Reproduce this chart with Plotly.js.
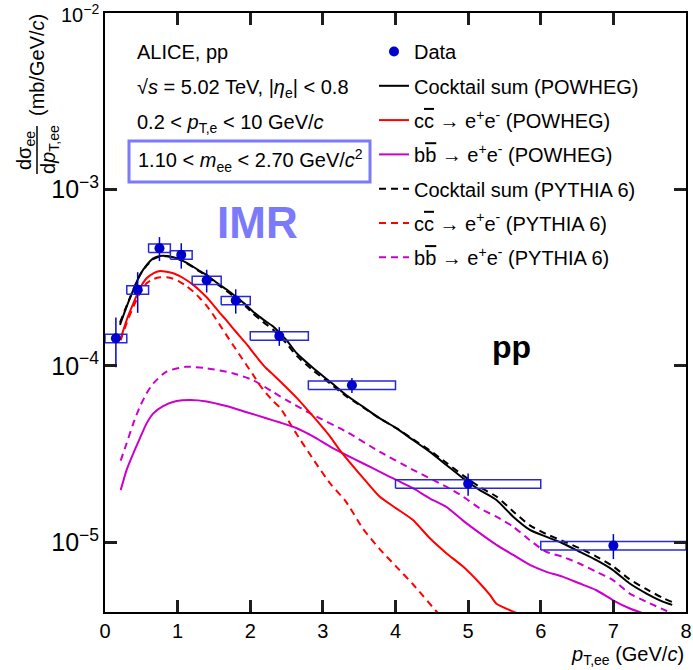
<!DOCTYPE html>
<html>
<head>
<meta charset="utf-8">
<script src="https://cdn.plot.ly/plotly-3.0.1.min.js"></script>
<style>
  html, body { margin: 0; padding: 0; background: #fff; }
  #chart { width: 693px; height: 670px; }
</style>
</head>
<body>
<div id="chart"></div>
<script>
// ---------------- data ----------------
const dataX    = [0.15, 0.45, 0.75, 1.05, 1.4, 1.8, 2.4, 3.4, 5.0, 7.0];
const dataY    = [1.435e-4, 2.70e-4, 4.65e-4, 4.26e-4, 3.06e-4, 2.35e-4, 1.48e-4, 7.78e-5, 2.15e-5, 9.6e-6];
const dataErr  = [0.45e-4, 0.70e-4, 0.72e-4, 0.70e-4, 0.45e-4, 0.37e-4, 0.18e-4, 0.76e-5, 0.31e-5, 1.55e-6];
const binLo    = [0.0, 0.3, 0.6, 0.9, 1.2, 1.6, 2.0, 2.8, 4.0, 6.0];
const binHi    = [0.3, 0.6, 0.9, 1.2, 1.6, 2.0, 2.8, 4.0, 6.0, 8.0];
const sysRel   = [0.055, 0.055, 0.055, 0.055, 0.055, 0.055, 0.055, 0.055, 0.055, 0.055];

const sumPowX = [0.206,0.298,0.39,0.48,0.573,0.665,0.757,0.848,0.94,1.03,1.12,1.215,1.307,1.40,1.49,1.58,1.67,1.76,1.857,1.95,2.04,2.13,2.22,2.32,2.41,2.50,2.64,2.87,3.10,3.32,3.55,3.78,4.01,4.24,4.47,4.70,4.93,5.16,5.39,5.62,5.85,6.07,6.30,6.53,6.76,6.99,7.22,7.45,7.68,7.81];
const sumPowY = [1.71e-4,2.17e-4,2.70e-4,3.28e-4,3.73e-4,4.07e-4,4.20e-4,4.20e-4,4.13e-4,4.02e-4,3.85e-4,3.65e-4,3.45e-4,3.28e-4,3.07e-4,2.88e-4,2.72e-4,2.55e-4,2.37e-4,2.20e-4,2.03e-4,1.90e-4,1.78e-4,1.67e-4,1.53e-4,1.40e-4,1.18e-4,9.7e-5,8.14e-5,6.85e-5,5.88e-5,5.06e-5,4.44e-5,3.81e-5,3.27e-5,2.75e-5,2.31e-5,1.98e-5,1.74e-5,1.40e-5,1.18e-5,1.08e-5,9.9e-6,8.87e-6,7.96e-6,6.99e-6,5.87e-6,5.15e-6,4.62e-6,4.43e-6];

const sumPytX = [0.206,0.298,0.39,0.48,0.573,0.665,0.757,0.848,0.94,1.03,1.12,1.215,1.307,1.40,1.49,1.58,1.67,1.76,1.857,1.95,2.04,2.13,2.22,2.32,2.41,2.50,2.64,2.87,3.10,3.32,3.55,3.78,4.01,4.24,4.47,4.70,4.93,5.16,5.39,5.62,5.85,6.07,6.30,6.53,6.76,6.99,7.22,7.45,7.68,7.81];
const sumPytY = [1.76e-4,2.19e-4,2.71e-4,3.27e-4,3.70e-4,4.03e-4,4.17e-4,4.18e-4,4.12e-4,4.00e-4,3.83e-4,3.63e-4,3.42e-4,3.24e-4,3.03e-4,2.84e-4,2.67e-4,2.50e-4,2.32e-4,2.15e-4,1.98e-4,1.84e-4,1.72e-4,1.60e-4,1.47e-4,1.34e-4,1.14e-4,9.4e-5,7.95e-5,6.75e-5,5.85e-5,5.05e-5,4.45e-5,3.85e-5,3.33e-5,2.83e-5,2.40e-5,2.06e-5,1.82e-5,1.50e-5,1.25e-5,1.12e-5,1.02e-5,9.3e-6,8.35e-6,7.35e-6,6.2e-6,5.45e-6,4.85e-6,4.6e-6];

const ccPowX = [0.216,0.298,0.39,0.48,0.573,0.665,0.757,0.848,0.94,1.03,1.12,1.215,1.307,1.40,1.49,1.58,1.67,1.76,1.857,1.95,2.04,2.13,2.22,2.32,2.41,2.64,2.87,3.10,3.23,3.55,3.78,4.01,4.24,4.47,4.70,4.93,5.16,5.30,5.39,5.62,5.80];
const ccPowY = [1.43e-4,1.82e-4,2.26e-4,2.75e-4,3.14e-4,3.35e-4,3.45e-4,3.42e-4,3.35e-4,3.23e-4,3.07e-4,2.88e-4,2.67e-4,2.45e-4,2.22e-4,2.00e-4,1.82e-4,1.64e-4,1.47e-4,1.33e-4,1.19e-4,1.07e-4,9.7e-5,8.9e-5,8.2e-5,6.6e-5,5.16e-5,3.98e-5,3.35e-5,2.33e-5,1.82e-5,1.56e-5,1.34e-5,1.06e-5,8.7e-6,7.3e-6,5.87e-6,5.04e-6,4.5e-6,4.06e-6,3.8e-6];

const ccPytX = [0.216,0.298,0.39,0.48,0.573,0.665,0.757,0.848,0.94,1.03,1.12,1.215,1.307,1.40,1.49,1.58,1.67,1.76,1.857,1.95,2.04,2.13,2.22,2.32,2.41,2.64,2.87,3.10,3.32,3.55,3.78,4.01,4.24,4.58,4.70];
const ccPytY = [1.40e-4,1.75e-4,2.17e-4,2.58e-4,2.94e-4,3.11e-4,3.18e-4,3.18e-4,3.12e-4,3.00e-4,2.84e-4,2.64e-4,2.42e-4,2.19e-4,1.95e-4,1.71e-4,1.50e-4,1.32e-4,1.15e-4,1.01e-4,8.9e-5,7.8e-5,7.0e-5,6.3e-5,5.8e-5,4.1e-5,2.95e-5,2.16e-5,1.70e-5,1.20e-5,9.2e-6,7.3e-6,5.8e-6,4.0e-6,3.6e-6];

const bbPowX = [0.216,0.298,0.39,0.48,0.573,0.665,0.80,0.986,1.17,1.40,1.67,1.95,2.22,2.41,2.64,2.87,3.10,3.32,3.55,3.78,4.01,4.24,4.47,4.70,4.93,5.16,5.39,5.62,5.85,6.07,6.30,6.53,6.76,6.99,7.22,7.40];
const bbPowY = [1.98e-5,2.58e-5,3.2e-5,3.89e-5,4.73e-5,5.39e-5,5.93e-5,6.33e-5,6.42e-5,6.3e-5,5.93e-5,5.47e-5,5.06e-5,4.78e-5,4.44e-5,3.98e-5,3.49e-5,3.13e-5,2.81e-5,2.52e-5,2.26e-5,2.03e-5,1.78e-5,1.59e-5,1.33e-5,1.13e-5,9.7e-6,8.5e-6,7.46e-6,6.84e-6,6.4e-6,5.87e-6,5.38e-6,4.72e-6,4.24e-6,3.98e-6];

const bbPytX = [0.216,0.298,0.39,0.48,0.573,0.665,0.848,1.12,1.40,1.76,2.04,2.32,2.50,2.87,3.32,3.78,4.24,4.70,4.93,5.16,5.39,5.62,5.85,6.07,6.30,6.53,6.76,6.99,7.22,7.45,7.80];
const bbPytY = [2.91e-5,3.65e-5,4.73e-5,5.88e-5,7.0e-5,7.97e-5,9.3e-5,9.9e-5,9.7e-5,9.1e-5,8.3e-5,7.1e-5,6.4e-5,5.27e-5,4.25e-5,3.27e-5,2.58e-5,2.07e-5,1.82e-5,1.56e-5,1.40e-5,1.23e-5,1.03e-5,8.87e-6,8.3e-6,7.6e-6,6.84e-6,6.14e-6,5.15e-6,4.62e-6,3.98e-6];

const xTickVals = [0,1,2,3,4,5,6,7,8];

// ---------------- build ----------------
const FONT = 'Liberation Sans, Arial, Helvetica, sans-serif';
const BLUE = 'rgb(0,0,205)';
const RED = 'rgb(255,0,0)';
const MAG = 'rgb(204,0,204)';
const DASH = '7px,5px';
const YR = [-5.394, -2];
const XR = [0, 8];
const TICKC = 'rgb(30,30,30)';

const cbar = 'c<span style="text-decoration:overline">c</span>';
const bbar = 'b<span style="text-decoration:overline">b</span>';
const ee = 'e<sup>+</sup>e<sup>-</sup>';

// minor tick positions (axis decoration)
const xMinor = [];
for (let i = 1; i < 40; i++) { if (i % 5 !== 0) xMinor.push(i * 0.2); }
const yMinor = [];
for (let d = -6; d <= -3; d++) { for (let k = 2; k <= 9; k++) yMinor.push(k * Math.pow(10, d)); }

const boxX = [], boxY = [];
for (let i = 0; i < dataX.length; i++) {
  const lo = dataY[i] * (1 - sysRel[i]);
  const hi = dataY[i] * (1 + sysRel[i]);
  boxX.push(binLo[i], binHi[i], binHi[i], binLo[i], binLo[i], null);
  boxY.push(lo, lo, hi, hi, lo, null);
}

function curve(x, y, color, dash, name, rank) {
  return {
    type: 'scatter', mode: 'lines', x: x, y: y, name: name,
    legendrank: rank, legendgroup: 'g' + rank,
    line: {color: color, width: 2, dash: dash, shape: 'spline', smoothing: 0.6},
    hoverinfo: 'skip'
  };
}

const traces = [
  curve(bbPytX, bbPytY, MAG, DASH, bbar + ' \u2192 ' + ee + ' (PYTHIA 6)', 7),
  curve(ccPytX, ccPytY, RED, DASH, cbar + ' \u2192 ' + ee + ' (PYTHIA 6)', 6),
  curve(bbPowX, bbPowY, MAG, 'solid', bbar + ' \u2192 ' + ee + ' (POWHEG)', 4),
  curve(ccPowX, ccPowY, RED, 'solid', cbar + ' \u2192 ' + ee + ' (POWHEG)', 3),
  curve(sumPytX, sumPytY, 'black', DASH, 'Cocktail sum (PYTHIA 6)', 5),
  curve(sumPowX, sumPowY, 'black', 'solid', 'Cocktail sum (POWHEG)', 2),
  {
    type: 'scatter', mode: 'lines', x: boxX, y: boxY, showlegend: false,
    line: {color: 'rgb(40,40,215)', width: 1.5}, hoverinfo: 'skip', connectgaps: false
  },
  {
    type: 'scatter', mode: 'markers', x: dataX, y: dataY, name: 'Data',
    legendrank: 1, legendgroup: 'g1',
    marker: {color: BLUE, size: 10, symbol: 'circle'},
    error_y: {type: 'data', array: dataErr, visible: true, color: BLUE, thickness: 1.5, width: 0},
    hoverinfo: 'skip'
  }
];

function px2x(px) { return (px - 105) / 581; }
function px2y(py) { return (612 - py) / 599; }

const annFont = {family: FONT, size: 20, color: 'black'};
const annotations = [
  {xref: 'paper', yref: 'paper', x: px2x(135), y: px2y(52), xanchor: 'left', yanchor: 'middle',
   text: 'ALICE, pp', showarrow: false, font: annFont},
  {xref: 'paper', yref: 'paper', x: px2x(135), y: px2y(88), xanchor: 'left', yanchor: 'middle',
   text: '\u221A<i>s</i> = 5.02 TeV, |<i>\u03B7</i><sub>e</sub>| < 0.8', showarrow: false, font: annFont},
  {xref: 'paper', yref: 'paper', x: px2x(135), y: px2y(123), xanchor: 'left', yanchor: 'middle',
   text: '0.2 < <i>p</i><sub>T,e</sub> < 10 GeV/<i>c</i>', showarrow: false, font: annFont},
  {xref: 'paper', yref: 'paper', x: px2x(136), y: px2y(160), xanchor: 'left', yanchor: 'middle',
   text: '1.10 < <i>m</i><sub>ee</sub> < 2.70 GeV/<i>c</i><sup>2</sup>', showarrow: false, font: annFont},
  {xref: 'paper', yref: 'paper', x: px2x(257), y: px2y(222), xanchor: 'center', yanchor: 'middle',
   text: '<b>IMR</b>', showarrow: false, font: {family: FONT, size: 44, color: 'rgb(122,122,250)'}},
  {xref: 'paper', yref: 'paper', x: px2x(511), y: px2y(347), xanchor: 'center', yanchor: 'middle',
   text: '<b>pp</b>', showarrow: false, font: {family: FONT, size: 32, color: 'black'}},
  {xref: 'paper', yref: 'paper', x: 1.0, y: px2y(641), xanchor: 'right', yanchor: 'top',
   text: '<i>p</i><sub>T,ee</sub> (GeV/<i>c</i>)', showarrow: false, font: annFont},
  {xref: 'paper', yref: 'paper', x: px2x(37), y: px2y(65), xanchor: 'center', yanchor: 'middle', textangle: -90,
   text: '(mb/GeV/<i>c</i>)', showarrow: false, font: annFont},
  {xref: 'paper', yref: 'paper', x: px2x(26), y: px2y(150), xanchor: 'center', yanchor: 'middle', textangle: -90,
   text: 'd\u03C3<sub>ee</sub>', showarrow: false, font: annFont},
  {xref: 'paper', yref: 'paper', x: px2x(50), y: px2y(150), xanchor: 'center', yanchor: 'middle', textangle: -90,
   text: 'd<i>p</i><sub>T,ee</sub>', showarrow: false, font: annFont},
  {xref: 'paper', yref: 'paper', x: px2x(101), y: 1.0, xanchor: 'right', yanchor: 'middle',
   text: '10<sup>\u22122</sup>', showarrow: false, font: annFont}
];

const shapes = [
  {type: 'rect', xref: 'paper', yref: 'paper', x0: px2x(129), x1: px2x(370), y0: px2y(141), y1: px2y(182),
   line: {color: 'rgb(122,122,250)', width: 3}, fillcolor: 'rgba(0,0,0,0)'},
  {type: 'line', xref: 'paper', yref: 'paper', x0: px2x(37), x1: px2x(37), y0: px2y(126), y1: px2y(174),
   line: {color: 'black', width: 1.5}}
];

const minorBase = {ticks: 'inside', ticklen: 6, tickwidth: 3, tickcolor: TICKC, showticklabels: false,
                   showgrid: false, zeroline: false, showline: false, mirror: 'allticks', fixedrange: true,
                   tickmode: 'array'};

const layout = {
  width: 693, height: 670,
  margin: {l: 105, r: 7, t: 13, b: 58, pad: 0},
  paper_bgcolor: 'white', plot_bgcolor: 'white',
  font: {family: FONT, size: 20, color: 'black'},
  showlegend: true,
  legend: {
    x: px2x(374), y: px2y(32), xanchor: 'left', yanchor: 'top',
    bgcolor: 'rgba(0,0,0,0)', borderwidth: 0,
    font: {family: FONT, size: 20, color: 'black'},
    traceorder: 'grouped', tracegroupgap: 5.3, itemwidth: 30
  },
  xaxis: {
    range: XR, tickmode: 'array', tickvals: xTickVals, ticktext: xTickVals.map(String),
    ticks: 'inside', ticklen: 12, tickwidth: 3, tickcolor: TICKC,
    showline: true, linecolor: 'black', linewidth: 2, mirror: 'allticks',
    showgrid: false, zeroline: false, fixedrange: true,
    tickfont: {family: FONT, size: 20, color: 'black'}
  },
  xaxis2: Object.assign({}, minorBase, {overlaying: 'x', anchor: 'y', side: 'bottom', range: XR, tickvals: xMinor}),
  yaxis: {
    type: 'log', range: YR, dtick: 1, exponentformat: 'power', showexponent: 'all',
    ticks: 'inside', ticklen: 12, tickwidth: 3, tickcolor: TICKC,
    showline: true, linecolor: 'black', linewidth: 2, mirror: 'allticks',
    showgrid: false, zeroline: false, fixedrange: true,
    tickfont: {family: FONT, size: 20, color: 'black'}
  },
  yaxis2: Object.assign({}, minorBase, {type: 'log', overlaying: 'y', anchor: 'x', side: 'left', range: YR, tickvals: yMinor}),
  annotations: annotations,
  shapes: shapes
};

Plotly.newPlot('chart', traces, layout, {staticPlot: true, displayModeBar: false});
</script>
</body>
</html>
